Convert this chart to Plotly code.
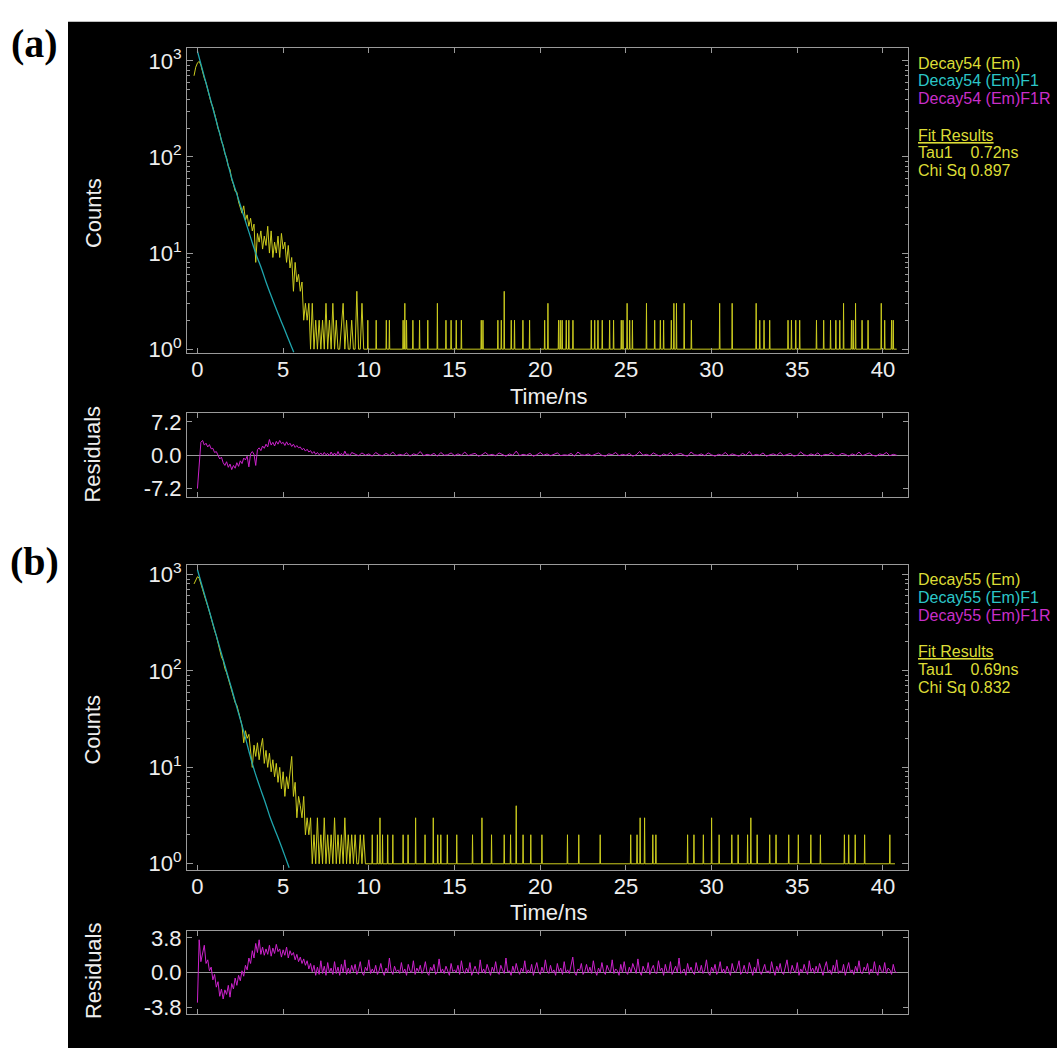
import plotly.graph_objects as go

W = H = 1057

# ---------------- Panel (a): Decay54 ----------------
decay_a_t0 = -0.2          # time of first channel (ns)
decay_a_step = 0.1         # channel width used for the read-off values (ns)
decay_a_counts = [700, 860, 950, 990, 900, 760, 660, 590, 500, 445,
                  365, 330, 270, 240, 198, 178, 146, 132, 108, 98,
                  80, 74, 58, 52, 44, 43, 34,
                  30, 26, 31, 22, 25, 19, 23, 17, 20, 8,
                  16, 13, 17, 11, 15, 12, 19, 10, 17, 9,
                  13, 10, 15, 9, 16, 11, 13, 8, 12, 7,
                  9, 4, 8, 5, 6, 4, 5, 2, 3, 2,
                  3, 1, 3, 1, 2, 1, 2, 1, 2, 1,
                  3, 1, 2, 1, 3, 1, 2, 1, 1, 2,
                  3, 1, 2, 1, 1, 2, 1, 1, 4, 1,
                  1, 3, 1]
tail_a_t = [9.94, 10.43, 11.02, 11.2, 12.0, 12.1, 12.2, 12.57, 12.96, 13.44,
            14.0, 14.5, 14.8, 15.1, 15.4, 16.56, 16.66, 17.53, 17.73, 17.9,
            18.31, 18.5, 18.99, 19.38, 20.26, 20.45, 21.07, 21.17, 21.28, 21.52,
            21.67, 21.91, 22.98, 23.18, 23.37, 23.62, 24.05, 24.28, 24.73, 24.83,
            25.07, 25.22, 25.38, 26.2, 26.68, 27.01, 27.2, 27.65, 27.8, 27.95,
            28.4, 28.82, 30.47, 31.2, 32.6, 32.81, 33.06, 33.39, 34.46, 34.66,
            34.91, 35.14, 36.12, 36.54, 36.94, 37.25, 37.48, 37.7, 38.16, 38.26,
            38.4, 38.78, 39.13, 39.9, 40.1, 40.5, 40.6]
tail_a_counts = [2, 2, 2, 2, 2, 3, 2, 2, 2, 2,
                 3, 2, 2, 2, 2, 2, 2, 2, 2, 4,
                 2, 2, 2, 2, 2, 3, 2, 2, 2, 2,
                 2, 2, 2, 2, 2, 2, 2, 2, 2, 2,
                 3, 2, 2, 3, 2, 2, 2, 2, 3, 3,
                 3, 2, 3, 3, 3, 2, 2, 2, 2, 2,
                 2, 2, 2, 2, 2, 2, 2, 3, 2, 2,
                 3, 2, 2, 3, 2, 2, 2]
decay_a_end = 40.8
fit_a_t = [0, 0.25, 0.5, 0.75, 1.0, 1.25, 1.5, 1.75, 2.0, 2.25, 2.5, 2.75,
           3.0, 3.25, 3.5, 3.75, 4.0, 4.25, 4.5, 4.75, 5.0, 5.25, 5.5, 5.62]
fit_a_counts = [1259, 861, 589, 403, 275, 188, 129, 88, 60, 43.6, 31.6, 22.9,
                16.6, 12.0, 8.9, 6.8, 5.0, 3.8, 2.9, 2.24, 1.74, 1.35, 1.05, 0.93]
resid_a_early = [-7.2, -1.5, 2.8, 3.2, 2.2, 2.6, 1.8, 2.3, 1.4, 1.5,
                 0.6, 0.8, -0.2, -0.8, -0.4, -1.6, -2.2, -1.4, -2.6, -1.9,
                 -3.1, -2.2, -2.8, -1.6, -2.4, -1.2, -1.8, -0.6, -1.0, -0.2,
                 -2.5, 0.3, 0.8, 0.2, -2.2, 1.2, 1.6, 1.0, 2.0, 1.5,
                 2.4, 1.8, 3.4, 2.2, 2.8, 2.0, 3.0, 2.4, 3.2, 2.5,
                 2.8, 2.1, 2.9, 2.2, 2.6, 1.9, 2.4, 1.7, 2.1, 1.6,
                 1.8, 1.2, 1.5, 0.9, 1.3, 0.7, 1.0, 0.4, 0.8, 0.2,
                 0.6, 0.1, 0.5, 0.0, 0.6, 0.1, 0.4, -0.1, 0.7, 0.0,
                 0.5, -0.1, 0.8, 0.0, 0.4, -0.1, 0.9, 0.1, 0.3, -0.1,
                 0.6]
resid_a_tail_t0, resid_a_tail_step = 9.2, 0.2
resid_a_tail = [0.2, -0.1, 0.5, 0.0, 0.3, -0.2, 0.6, 0.1, -0.1, 0.4,
                0.0, 0.7, -0.1, 0.2, 0.0, 0.5, -0.2, 0.3, 0.1, 0.8,
                -0.1, 0.2, 0.0, 0.4, -0.2, 0.6, 0.0, 0.1, 0.5, -0.1,
                0.3, 0.0, 0.7, -0.1, 0.2, 0.4, -0.2, 0.1, 0.6, 0.0,
                0.2, -0.1, 0.5, 0.1, -0.2, 0.3, 0.0, 0.9, -0.1, 0.2,
                0.0, 0.4, -0.2, 0.1, 0.6, 0.0, 0.3, -0.1, 0.2, 0.5,
                -0.1, 0.1, 0.0, 0.4, -0.2, 0.7, 0.1, 0.0, 0.3, -0.1,
                0.2, 0.5, 0.0, -0.2, 0.3, 0.1, 0.6, -0.1, 0.2, 0.0,
                0.4, -0.2, 0.1, 0.8, 0.0, 0.2, -0.1, 0.5, 0.1, -0.2,
                0.3, 0.0, 0.6, -0.1, 0.2, 0.4, 0.0, -0.2, 0.7, 0.1,
                0.0, 0.3, -0.1, 0.5, 0.1, -0.2, 0.2, 0.0, 0.6, -0.1,
                0.3, 0.1, -0.2, 0.4, 0.0, 0.8, -0.1, 0.2, 0.0, 0.5,
                -0.2, 0.1, 0.3, 0.0, 0.6, -0.1, 0.2, 0.4, -0.2, 0.0,
                0.7, 0.1, -0.1, 0.3, 0.0, 0.5, -0.2, 0.2, 0.1, 0.6,
                0.0, -0.1, 0.4, 0.2, -0.2, 0.3, 0.0, 0.7, -0.1, 0.2,
                0.5, 0.0, -0.2, 0.3, 0.1, 0.6, -0.1, 0.2, 0.0]
legend_a = ["Decay54 (Em)", "Decay54 (Em)F1", "Decay54 (Em)F1R"]
fit_text_a = ["Tau1\u00a0\u00a0\u00a0\u00a00.72ns", "Chi Sq 0.897"]
resid_a_ticks = [-7.2, 0.0, 7.2]

# ---------------- Panel (b): Decay55 ----------------
decay_b_t0 = -0.2
decay_b_step = 0.1
decay_b_counts = [800, 880, 950, 920, 820, 700, 610, 545, 470, 410,
                  345, 310, 262, 232, 196, 172, 140, 128, 106, 96,
                  84, 70, 62, 54, 47, 44, 36,
                  32, 27, 18, 24, 20, 22, 14, 10, 17, 13,
                  18, 12, 16, 20, 11, 15, 10, 14, 9, 12,
                  8, 11, 7, 10, 6, 9, 5, 8, 6, 9,
                  13, 5, 7, 3, 5, 4, 3, 5, 2, 3,
                  2, 3, 1, 2, 1, 3, 1, 2, 1, 3,
                  1, 2, 1, 2, 1, 3, 1, 2, 1, 2,
                  1, 3, 1, 2, 1, 2, 1, 2, 1, 1,
                  2, 1, 2, 1]
tail_b_t = [10.2, 10.5, 10.65, 10.8, 11.1, 11.4, 12.0, 12.29, 12.73, 13.28,
            13.76, 14.02, 14.2, 14.58, 15.13, 16.05, 16.6, 17.16, 17.9, 18.27,
            18.6, 19.0, 19.45, 20.1, 21.59, 22.25, 23.5, 25.28, 25.65, 25.83,
            26.09, 26.57, 26.75, 28.6, 28.97, 29.52, 30.0, 30.44, 31.18, 31.55,
            32.1, 32.29, 32.66, 33.39, 33.76, 34.5, 35.06, 35.79, 36.35, 37.75,
            38.0, 38.38, 38.93, 40.4]
tail_b_counts = [2, 2, 3, 2, 2, 2, 2, 2, 3, 2,
                 3, 2, 2, 2, 2, 2, 3, 2, 2, 2,
                 4, 2, 2, 2, 2, 2, 2, 2, 2, 3,
                 3, 2, 2, 2, 2, 2, 3, 2, 2, 2,
                 2, 3, 2, 2, 2, 2, 2, 2, 2, 2,
                 2, 2, 2, 2]
decay_b_end = 40.7
fit_b_t = [0, 0.25, 0.5, 0.75, 1.0, 1.25, 1.5, 1.75, 2.0, 2.25, 2.5, 2.75,
           3.0, 3.25, 3.5, 3.75, 4.0, 4.25, 4.5, 4.75, 5.0, 5.25, 5.35]
fit_b_counts = [1122, 785, 550, 385, 269, 188, 132, 92, 65, 45, 31.6, 21.9,
                14.8, 10.2, 7.4, 5.5, 4.1, 3.0, 2.3, 1.78, 1.35, 1.02, 0.91]
resid_b_early = [-3.3, 3.6, 1.2, 2.0, 3.0, 1.0, 1.4, 0.2, 0.6, -0.8,
                 -0.2, -1.6, -1.0, -2.6, -1.8, -2.9, -1.9, -2.4, -1.4, -2.7,
                 -1.2, -1.8, -0.6, -1.4, -0.3, -0.9, 0.2, -0.4, 0.8, 0.3,
                 1.6, 1.0, 2.4, 1.6, 3.2, 2.2, 3.6, 2.0, 2.8, 1.9,
                 2.6, 2.0, 3.0, 1.8, 2.7, 2.1, 3.1, 2.3, 2.6, 1.7,
                 2.5, 1.9, 2.8, 1.6, 2.4, 1.9, 2.2, 1.4, 2.0, 1.2,
                 1.7, 1.0, 1.5, 0.8, 1.3, 0.4, 1.0, 0.1, 0.8, -0.3,
                 0.6, -0.2, 1.3, -0.1, 0.7, -0.3, 1.1, 0.0, 0.5, -0.2,
                 1.2, -0.1, 0.6, -0.3, 0.9, 0.0, 1.4, -0.2, 0.5, -0.1,
                 0.8]
resid_b_tail_t0, resid_b_tail_step = 9.1, 0.1
resid_b_tail = [0.1, 0.9, -0.2, 0.3, 1.2, 0.0, -0.3, 0.6, 0.2, 1.4, -0.1, 0.4, 0.0, 0.8, -0.2, 0.2, 1.0, 0.1, -0.3, 0.5,
                0.0, 1.6, 0.2, -0.2, 0.7, 0.1, 0.3, -0.1, 1.1, 0.0, 0.4, -0.3, 0.9, 0.2, 0.0, 1.3, -0.2, 0.5, 0.1, 0.8,
                -0.1, 0.3, 1.2, 0.0, -0.3, 0.6, 0.2, 0.9, -0.2, 0.1, 1.5, 0.0, 0.4, -0.1, 0.7, 0.2, -0.3, 1.0, 0.1, 0.3,
                0.0, 0.8, -0.2, 1.3, 0.2, -0.1, 0.5, 0.0, 1.1, -0.3, 0.3, 0.7, 0.1, -0.2, 1.4, 0.0, 0.4, -0.1, 0.9, 0.2,
                -0.3, 0.6, 0.1, 1.2, 0.0, -0.2, 0.8, 0.3, -0.1, 1.6, 0.1, 0.2, -0.3, 0.7, 0.0, 1.0, 0.2, -0.2, 0.5, 0.1,
                1.3, -0.1, 0.3, 0.0, 0.9, -0.3, 0.4, 1.1, 0.1, -0.2, 0.6, 0.0, 1.4, 0.2, -0.1, 0.8, 0.0, 0.3, -0.3, 1.0,
                0.1, 0.5, -0.2, 1.2, 0.0, 0.3, -0.1, 0.7, 1.7, 0.0, -0.3, 0.4, 0.2, 1.0, -0.2, 0.1, 0.9, 0.0, 0.6, -0.1,
                1.3, 0.2, -0.3, 0.5, 0.0, 1.1, 0.1, -0.2, 0.8, 0.3, 0.0, 1.4, -0.1, 0.4, 0.2, -0.3, 0.9, 0.0, 1.2, 0.1,
                -0.2, 0.6, 0.0, 1.0, 0.3, -0.1, 1.5, 0.1, -0.3, 0.7, 0.2, 0.0, 1.1, -0.2, 0.4, 0.8, 0.0, -0.1, 1.3, 0.2,
                0.5, -0.3, 0.9, 0.1, 0.0, 1.2, -0.2, 0.3, 0.7, 0.0, 1.6, -0.1, 0.2, 0.4, -0.3, 1.0, 0.1, 0.6, 0.0, -0.2,
                1.1, 0.2, 0.0, 0.8, -0.1, 0.3, 1.4, 0.0, -0.3, 0.6, 0.1, 0.9, -0.2, 0.2, 1.2, 0.0, 0.4, -0.1, 0.7, 0.1,
                -0.3, 1.0, 0.2, 0.0, 0.5, 1.3, -0.2, 0.1, 0.8, 0.0, -0.1, 1.1, 0.3, -0.3, 0.6, 0.0, 1.5, 0.2, -0.2, 0.4,
                0.9, 0.0, 0.2, -0.1, 1.2, 0.3, -0.3, 0.7, 0.1, 1.0, 0.0, -0.2, 0.5, 1.4, 0.1, -0.1, 0.8, 0.2, 0.0, 1.1,
                -0.3, 0.4, 0.0, 0.9, 0.2, -0.2, 1.3, 0.1, 0.5, -0.1, 0.7, 0.0, 1.0, 0.2, -0.3, 0.6, 1.2, 0.0, 0.3, -0.2,
                0.8, 0.1, 1.4, -0.1, 0.2, 0.0, 0.9, -0.3, 0.5, 1.1, 0.0, 0.3, -0.2, 0.7, 0.1, 1.3, 0.0, -0.1, 0.6, 0.2,
                1.0, -0.2, 0.4, 0.0, 1.2, 0.1, -0.3, 0.8, 0.2, 0.0, 1.1, -0.1, 0.5, 0.3, -0.2, 0.9, 0.1, 0.0]
legend_b = ["Decay55 (Em)", "Decay55 (Em)F1", "Decay55 (Em)F1R"]
fit_text_b = ["Tau1\u00a0\u00a0\u00a0\u00a00.69ns", "Chi Sq 0.832"]
resid_b_ticks = [-3.8, 0.0, 3.8]

# residual early-channel grid (ns)
resid_early_t0, resid_early_step = 0.0, 0.1

time_ticks = [0, 5, 10, 15, 20, 25, 30, 35, 40]
log_major = [1, 10, 100, 1000]
log_major_text = ["10<sup>0</sup>", "10<sup>1</sup>", "10<sup>2</sup>", "10<sup>3</sup>"]
log_minor = [m * d for d in (1, 10, 100) for m in range(2, 10)]

# ---------------- styling ----------------
YEL = "#cccc1e"
CYN = "#1fa5ad"
MAG = "#cc22cc"
TXT_Y = "#dcdc36"
TXT_C = "#2cc6c8"
TXT_M = "#c92ec9"
FRAME = "#9a9a9a"
LBL = "#eeeeee"
FONT = "Liberation Sans"


def px(x):
    return x / W


def py(y):
    return 1 - y / H


def build_decay(t0, step, counts, spike_t, spike_c, t_end):
    t = [round(t0 + step * i, 3) for i in range(len(counts))]
    y = list(counts)
    for st, sc in sorted(zip(spike_t, spike_c)):
        t += [st - 0.02, st, st + 0.02]
        y += [1, sc, 1]
    t.append(t_end)
    y.append(1)
    return t, y


def build_resid(early, tail, tail_t0, tail_step):
    t = [round(resid_early_t0 + resid_early_step * i, 3) for i in range(len(early))]
    t += [round(tail_t0 + tail_step * i, 3) for i in range(len(tail))]
    return t, list(early) + list(tail)


fig = go.Figure()

panels = [
    (decay_a_t0, decay_a_step, decay_a_counts, tail_a_t, tail_a_counts, decay_a_end,
     fit_a_t, fit_a_counts, resid_a_early, resid_a_tail, resid_a_tail_t0, resid_a_tail_step, "", "2"),
    (decay_b_t0, decay_b_step, decay_b_counts, tail_b_t, tail_b_counts, decay_b_end,
     fit_b_t, fit_b_counts, resid_b_early, resid_b_tail, resid_b_tail_t0, resid_b_tail_step, "3", "4"),
]
for (t0, st, cnt, tt, tc, tend, ft, fc, re, rt, rt0, rst, main_ax, res_ax) in panels:
    dt, dy = build_decay(t0, st, cnt, tt, tc, tend)
    fig.add_trace(go.Scatter(x=dt, y=dy, mode="lines", line=dict(color=YEL, width=1),
                             xaxis="x" + main_ax, yaxis="y" + main_ax, showlegend=False,
                             hoverinfo="skip"))
    fig.add_trace(go.Scatter(x=ft, y=fc, mode="lines", line=dict(color=CYN, width=1.3, shape="spline"),
                             xaxis="x" + main_ax, yaxis="y" + main_ax, showlegend=False,
                             hoverinfo="skip"))
    rx, ry = build_resid(re, rt, rt0, rst)
    fig.add_trace(go.Scatter(x=rx, y=ry, mode="lines", line=dict(color=MAG, width=1),
                             xaxis="x" + res_ax, yaxis="y" + res_ax, showlegend=False,
                             hoverinfo="skip"))

xdom = [px(187), px(908)]
xrange_ = [-0.61, 41.46]
tickfont = dict(family=FONT, size=22, color=LBL)


def xaxis(anchor, labels):
    return dict(domain=xdom, range=xrange_, anchor=anchor, tickvals=time_ticks,
                ticks="inside", ticklen=5, tickwidth=1, tickcolor=FRAME,
                showline=True, linecolor=FRAME, linewidth=1, mirror="allticks",
                showgrid=False, zeroline=False, showticklabels=labels,
                tickfont=tickfont, ticklabelstandoff=-3)


def yaxis_log(anchor, dom, rng):
    return dict(domain=dom, type="log", range=rng, anchor=anchor,
                tickvals=log_major, ticktext=log_major_text,
                ticks="inside", ticklen=6, tickwidth=1, tickcolor=FRAME,
                minor=dict(tickvals=log_minor, ticks="inside", ticklen=3,
                           tickwidth=1, tickcolor=FRAME, showgrid=False),
                showline=True, linecolor=FRAME, linewidth=1, mirror="allticks",
                showgrid=False, zeroline=False, tickfont=tickfont, ticklabelstandoff=0)


def yaxis_res(anchor, dom, rng, ticks):
    return dict(domain=dom, range=rng, anchor=anchor, tickvals=ticks,
                ticktext=["%.1f" % v for v in ticks],
                ticks="inside", ticklen=5, tickwidth=1, tickcolor=FRAME,
                showline=True, linecolor=FRAME, linewidth=1, mirror="allticks",
                showgrid=False, zeroline=True, zerolinecolor=FRAME, zerolinewidth=1,
                tickfont=tickfont, ticklabelstandoff=0)


fig.update_layout(
    width=W, height=H, autosize=False,
    margin=dict(l=0, r=0, t=0, b=0),
    paper_bgcolor="white", plot_bgcolor="black",
    xaxis=xaxis("y", True),
    yaxis=yaxis_log("x", [py(352), py(43)], [-0.04, 3.13]),
    xaxis2=xaxis("y2", False),
    yaxis2=yaxis_res("x2", [py(498), py(413)], [-9.0, 9.1], resid_a_ticks),
    xaxis3=xaxis("y3", True),
    yaxis3=yaxis_log("x3", [py(876), py(567)], [-0.06, 3.10]),
    xaxis4=xaxis("y4", False),
    yaxis4=yaxis_res("x4", [py(1023), py(938)], [-4.6, 4.6], resid_b_ticks),
    showlegend=False,
)

fig.add_shape(type="rect", xref="paper", yref="paper", x0=px(68), x1=1, y0=0, y1=py(16),
              fillcolor="black", line=dict(width=0), layer="below")

ann = []


def text(x, y, s, size=22, color=LBL, angle=0, xanchor="center", family=FONT):
    ann.append(dict(x=px(x), y=py(y), xref="paper", yref="paper", text=s, showarrow=False,
                    font=dict(family=family, size=size, color=color), textangle=angle,
                    xanchor=xanchor, yanchor="middle"))


text(34, 38, "<b>(a)</b>", size=40, color="black", family="Liberation Serif")
text(34, 563, "<b>(b)</b>", size=40, color="black", family="Liberation Serif")

for (top, leg, fit) in [(0, legend_a, fit_text_a), (524, legend_b, fit_text_b)]:
    text(93, 210 + top, "Counts", angle=-90)
    text(93, 455 + top, "Residuals", angle=-90)
    text(548, 396 + top, "Time/ns")
    lx = 916
    text(lx, 58 + top, leg[0], size=16, color=TXT_Y, xanchor="left")
    text(lx, 76 + top, leg[1], size=16, color=TXT_C, xanchor="left")
    text(lx, 94 + top, leg[2], size=16, color=TXT_M, xanchor="left")
    text(lx, 131 + top, "<u>Fit Results</u>", size=16, color=TXT_Y, xanchor="left")
    text(lx, 149 + top, fit[0], size=16, color=TXT_Y, xanchor="left")
    text(lx, 167 + top, fit[1], size=16, color=TXT_Y, xanchor="left")

fig.update_layout(annotations=ann)

# pin the figure to the viewport's top-left corner
page_fix = (
    "document.documentElement.style.margin='0';"
    "document.documentElement.style.overflow='hidden';"
    "document.body.style.margin='0';"
    "document.body.style.overflow='hidden';"
    "var gd=document.getElementById('{plot_id}');"
    "gd.style.position='fixed';gd.style.left='0px';gd.style.top='0px';"
)
fig.write_html("out.html", config={"displayModeBar": False}, post_script=page_fix)
